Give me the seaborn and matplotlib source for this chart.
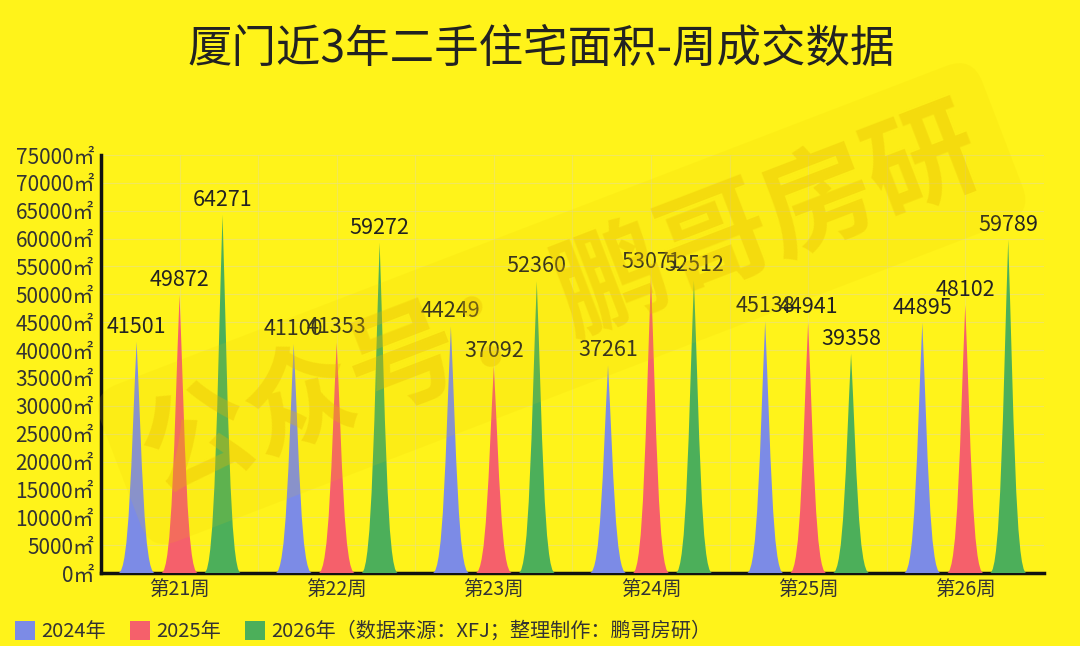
import pandas as pd
import numpy as np
import seaborn as sns
import matplotlib.pyplot as plt
from matplotlib.path import Path
from matplotlib.patches import PathPatch, Patch

# 数据
weeks = ['第21周', '第22周', '第23周', '第24周', '第25周', '第26周']
years = ['2024年', '2025年', '2026年']
area_2024 = [41501, 41100, 44249, 37261, 45138, 44895]
area_2025 = [49872, 41353, 37092, 53071, 44941, 48102]
area_2026 = [64271, 59272, 52360, 52512, 39358, 59789]
colors = ['#7C8BE6', '#F5606B', '#4CAF5A']
legend_labels = ['2024年', '2025年', '2026年（数据来源：XFJ；整理制作：鹏哥房研）']

df = pd.DataFrame({
    '周': weeks * 3,
    '年份': [y for y in years for _ in weeks],
    '面积': area_2024 + area_2025 + area_2026,
})

bg = '#FFF31A'
sns.set_theme(style='white')
plt.rcParams['font.family'] = ['Noto Sans CJK SC', 'DejaVu Sans']
plt.rcParams['axes.unicode_minus'] = False

fig = plt.figure(figsize=(10.8, 6.46), dpi=100, facecolor=bg)
ax = fig.add_axes([0.0935, 0.113, 0.873, 0.647])
ax.set_facecolor(bg)

sns.barplot(data=df, x='周', y='面积', hue='年份', palette=colors,
            width=0.82, ax=ax, legend=False)


# 把矩形柱子换成尖角形状
def spike(cx, w, h):
    a, b = 0.4 * w / 2, 0.3 * w / 2
    verts = [(cx - w / 2, 0), (cx + w / 2, 0),
             (cx + a, 0), (cx + b, h / 2), (cx, h),
             (cx - b, h / 2), (cx - a, 0), (cx - w / 2, 0),
             (cx - w / 2, 0)]
    codes = [Path.MOVETO, Path.LINETO,
             Path.CURVE4, Path.CURVE4, Path.CURVE4,
             Path.CURVE4, Path.CURVE4, Path.CURVE4,
             Path.CLOSEPOLY]
    return Path(verts, codes)


for cont, c in zip(ax.containers, colors):
    for bar in cont:
        cx = bar.get_x() + bar.get_width() / 2
        h = bar.get_height()
        w = bar.get_width() * 0.85
        bar.set_visible(False)
        ax.add_patch(PathPatch(spike(cx, w, h), facecolor=c, edgecolor='none', zorder=3))
        ax.annotate(f'{int(h)}', (cx, h), xytext=(0, 3), textcoords='offset points',
                    ha='center', va='bottom', fontsize=15.5, color='#222222', zorder=5)

ax.set_ylim(0, 75000)
ax.set_xlim(-0.5, 5.5)
yt = np.arange(0, 75001, 5000)
ax.set_yticks(yt)
ax.set_yticklabels([f'{v}㎡' for v in yt], fontsize=15, color='#333333')
ax.tick_params(axis='x', labelsize=14, labelcolor='#333333', length=0, pad=4)
ax.tick_params(axis='y', length=0, pad=5)
ax.set_xlabel('')
ax.set_ylabel('')

# 网格
for v in yt[1:]:
    ax.axhline(v, color='#E8E08A', lw=0.8, alpha=0.6, zorder=0)
for xb in np.arange(-0.5, 5.6, 0.5):
    ax.axvline(xb, color='#E8E08A', lw=0.8, alpha=0.5, zorder=0)

sns.despine(ax=ax)
for s in ['left', 'bottom']:
    ax.spines[s].set_color('#111111')
    ax.spines[s].set_linewidth(2.5)

# 标题
fig.text(0.501, 0.925, '厦门近3年二手住宅面积-周成交数据', ha='center', va='center',
         fontsize=32, color='#222222')

# 水印
fig.text(0.52, 0.53, '公众号：鹏哥房研', ha='center', va='center', rotation=21,
         fontsize=80, fontweight='bold', color='#E6B800', alpha=0.33, zorder=10,
         bbox=dict(boxstyle='round,pad=0.25', facecolor='#E8C800', edgecolor='none', alpha=0.12))

# 图例
handles = [Patch(facecolor=c, edgecolor='none') for c in colors]
fig.legend(handles, legend_labels, loc='lower left', bbox_to_anchor=(-0.003, -0.022),
           ncol=3, frameon=False, fontsize=14.5, handlelength=1.0, handleheight=1.1,
           handletextpad=0.3, columnspacing=1.2, labelcolor='#333333')

fig.savefig('out.png', dpi=100, facecolor=bg)
